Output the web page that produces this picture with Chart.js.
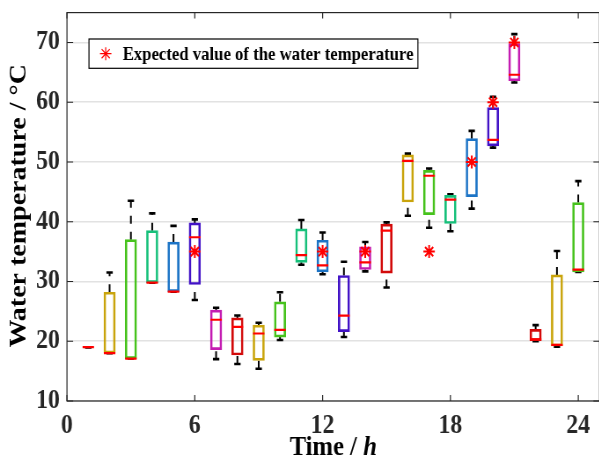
<!DOCTYPE html>
<html lang="en">
<head>
<meta charset="UTF-8">
<title>Water temperature by hour</title>
<script src="https://cdn.jsdelivr.net/npm/chart.js"></script>
<style>
  html, body { margin: 0; padding: 0; overflow: hidden; background: #fff; }
  #quadro { width: 599px; height: 461px; overflow: hidden; }
  /* a figura original vem um pouco estreitada na horizontal */
  #grafico { transform: scaleX(0.88); transform-origin: 0 0; }
</style>
</head>
<body>
<div id="quadro"><canvas id="grafico" width="690" height="461"></canvas></div>

<script>
// horas do dia (uma caixa por hora)
const horas = [1, 2, 3, 4, 5, 6, 7, 8, 9, 10, 11, 12, 13, 14, 15, 16, 17, 18, 19, 20, 21, 22, 23, 24];

// estatisticas de cada caixa (°C)
const inferior = [19.0, 18.0, 17.1, 29.8, 28.3, 26.9, 17.0, 16.2, 15.4, 20.2, 32.8, 31.2, 20.7, 31.7, 29.0, 41.0, 39.0, 38.4, 42.2, 52.4, 63.3, 20.0, 19.1, 31.6];
const q1       = [19.0, 18.0, 17.1, 29.8, 28.3, 29.5, 18.6, 17.7, 16.8, 20.7, 33.2, 31.6, 21.6, 32.0, 31.4, 43.3, 41.2, 39.7, 44.2, 52.7, 63.6, 20.1, 19.2, 31.6];
const mediana  = [19.0, 18.0, 17.1, 29.8, 28.3, 37.4, 23.6, 22.4, 21.3, 21.9, 34.4, 32.7, 24.3, 33.2, 38.5, 50.2, 47.7, 43.7, 50.0, 53.7, 64.6, 20.3, 19.4, 32.0];
const q3       = [19.0, 28.2, 37.0, 38.5, 36.6, 39.8, 25.2, 23.9, 22.7, 26.6, 38.8, 36.9, 31.0, 35.8, 39.6, 51.2, 48.6, 44.4, 53.9, 59.1, 69.8, 22.0, 31.1, 43.2];
const superior = [19.0, 31.5, 43.5, 41.4, 39.3, 40.4, 25.6, 24.3, 23.1, 28.2, 40.3, 38.2, 33.3, 36.6, 39.9, 51.4, 48.9, 44.6, 55.2, 60.9, 71.4, 22.7, 35.1, 46.8];

// valor esperado da temperatura da agua
const horasEsperado = [6, 12, 14, 17, 19, 20, 21];
const esperado = [35, 35, 35, 35, 50, 60, 70];

const ticksX = [0, 6, 12, 18, 24];
const ticksY = [10, 20, 30, 40, 50, 60, 70];

// cores das caixas, repetem a cada 7 horas
const cores = ['#d20a0a', '#c9a40c', '#46c21c', '#16c07a', '#1c74c6', '#4212c6', '#c41cb2'];

const fonte = '"Liberation Serif", "Times New Roman", serif';
Chart.defaults.font.family = fonte;

// pernas dos bigodes: q3 -> superior e inferior -> q1, separadas por null
const bigodes = [];
horas.forEach(function (h, i) {
    bigodes.push({ x: h, y: q3[i] }, { x: h, y: superior[i] }, { x: h, y: null });
    bigodes.push({ x: h, y: inferior[i] }, { x: h, y: q1[i] }, { x: h, y: null });
});

const pontas = [];
horas.forEach(function (h, i) {
    pontas.push({ x: h, y: superior[i] }, { x: h, y: inferior[i] });
});

// moldura com ticks para dentro, legenda e titulos dos eixos
const moldura = {
    id: 'moldura',
    beforeDatasetsDraw(chart) {
        const ctx = chart.ctx;
        const { left, right, top, bottom } = chart.chartArea;
        const sx = chart.scales.x, sy = chart.scales.y;
        ctx.save();
        ctx.strokeStyle = '#262626';
        ctx.lineWidth = 1.2;
        ctx.strokeRect(left, top, right - left, bottom - top);
        ctx.beginPath();
        ticksX.forEach(function (v) {
            const px = sx.getPixelForValue(v);
            ctx.moveTo(px, bottom); ctx.lineTo(px, bottom - 6);
            ctx.moveTo(px, top); ctx.lineTo(px, top + 6);
        });
        ticksY.forEach(function (v) {
            const py = sy.getPixelForValue(v);
            ctx.moveTo(left, py); ctx.lineTo(left + 7, py);
            ctx.moveTo(right, py); ctx.lineTo(right - 7, py);
        });
        ctx.stroke();
        ctx.restore();
    },
    afterDraw(chart) {
        const ctx = chart.ctx;
        const { left, right, top, bottom } = chart.chartArea;
        ctx.save();

        // legenda
        const texto = 'Expected value of the water temperature';
        ctx.font = 'bold 19px ' + fonte;
        const larg = ctx.measureText(texto).width;
        const x0 = left + 25, y0 = top + 26.4, alt = 29.3;
        const w = 19 + 19.3 + larg + 5;
        ctx.fillStyle = '#fff';
        ctx.fillRect(x0, y0, w, alt);
        ctx.strokeStyle = '#000';
        ctx.lineWidth = 1.2;
        ctx.strokeRect(x0, y0, w, alt);
        ctx.strokeStyle = '#ff0000';
        ctx.fillStyle = '#ff0000';
        Chart.helpers.drawPoint(ctx, { pointStyle: 'star', radius: 6.5, borderWidth: 2, rotation: 0 }, x0 + 19, y0 + alt / 2);
        ctx.fillStyle = '#000';
        ctx.textBaseline = 'middle';
        ctx.textAlign = 'left';
        ctx.fillText(texto, x0 + 19 + 19.3, y0 + alt / 2 + 1);

        // titulo do eixo y
        ctx.font = 'bold 28px ' + fonte;
        ctx.fillStyle = '#000';
        ctx.save();
        ctx.translate(21.6, (top + bottom) / 2 - 1);
        ctx.rotate(-Math.PI / 2);
        ctx.textAlign = 'center';
        ctx.textBaseline = 'middle';
        ctx.fillText('Water temperature / °C', 0, 0);
        ctx.restore();

        // titulo do eixo x, com o h em italico
        const parte1 = 'Time / ';
        ctx.font = 'bold 28px ' + fonte;
        const w1 = ctx.measureText(parte1).width;
        ctx.font = 'italic bold 28px ' + fonte;
        const w2 = ctx.measureText('h').width;
        const xi = (left + right) / 2 - (w1 + w2) / 2;
        ctx.textAlign = 'left';
        ctx.textBaseline = 'alphabetic';
        ctx.font = 'bold 28px ' + fonte;
        ctx.fillText(parte1, xi, bottom + 54);
        ctx.font = 'italic bold 28px ' + fonte;
        ctx.fillText('h', xi + w1, bottom + 54);
        ctx.restore();
    }
};

const config = {
    type: 'bar',
    data: {
        datasets: [
            {
                type: 'scatter',
                label: 'Expected value of the water temperature',
                data: horasEsperado.map((h, i) => ({ x: h, y: esperado[i] })),
                pointStyle: 'star',
                pointRadius: 6.5,
                pointHoverRadius: 6.5,
                pointBorderWidth: 2,
                pointBorderColor: '#ff0000',
                pointBackgroundColor: '#ff0000',
                order: 0
            },
            {
                type: 'scatter',
                label: 'Mediana',
                data: horas.map((h, i) => ({ x: h, y: mediana[i] })),
                pointStyle: 'line',
                pointRadius: 6.5,
                pointHoverRadius: 6.5,
                pointBorderWidth: 2.2,
                pointBorderColor: '#ff0000',
                order: 1
            },
            {
                type: 'bar',
                label: 'Caixas',
                data: horas.map((h, i) => ({ x: h, y: [q1[i], q3[i]] })),
                borderColor: horas.map((h, i) => cores[i % cores.length]),
                backgroundColor: 'rgba(255,255,255,0)',
                borderWidth: 2,
                borderSkipped: false,
                barThickness: 13,
                order: 2
            },
            {
                type: 'scatter',
                label: 'Pontas',
                data: pontas,
                pointStyle: 'line',
                pointRadius: 3.6,
                pointHoverRadius: 3.6,
                pointBorderWidth: 2.6,
                pointBorderColor: '#000',
                order: 3
            },
            {
                type: 'line',
                label: 'Bigodes',
                data: bigodes,
                borderColor: '#000',
                borderWidth: 2,
                borderDash: [8, 8],
                pointRadius: 0,
                pointHoverRadius: 0,
                spanGaps: false,
                fill: false,
                order: 4
            }
        ]
    },
    options: {
        responsive: false,
        animation: false,
        events: [],
        layout: { padding: { top: 12.6, right: 7, left: 0, bottom: 0 } },
        plugins: {
            legend: { display: false },
            tooltip: { enabled: false }
        },
        scales: {
            x: {
                type: 'linear',
                min: 0,
                max: 25,
                offset: false,
                grid: { display: false, offset: false, drawTicks: false },
                border: { display: false },
                afterBuildTicks: function (s) { s.ticks = ticksX.map(v => ({ value: v })); },
                afterFit: function (s) { s.height = 60; s.paddingLeft = 0; s.paddingRight = 0; },
                ticks: {
                    padding: 9,
                    maxRotation: 0,
                    autoSkip: false,
                    color: '#262626',
                    font: { size: 27, weight: 'bold' }
                }
            },
            y: {
                type: 'linear',
                min: 10,
                max: 75,
                beginAtZero: false,
                grid: { color: '#e2e2e2', lineWidth: 1.5, drawTicks: false },
                border: { display: false },
                afterBuildTicks: function (s) { s.ticks = ticksY.map(v => ({ value: v })); },
                afterFit: function (s) { s.width = 76.1; s.paddingTop = 0; s.paddingBottom = 0; },
                ticks: {
                    padding: 8,
                    color: '#262626',
                    font: { size: 27, weight: 'bold' }
                }
            }
        }
    },
    plugins: [moldura]
};

const grafico = new Chart(document.getElementById('grafico'), config);
</script>
</body>
</html>
